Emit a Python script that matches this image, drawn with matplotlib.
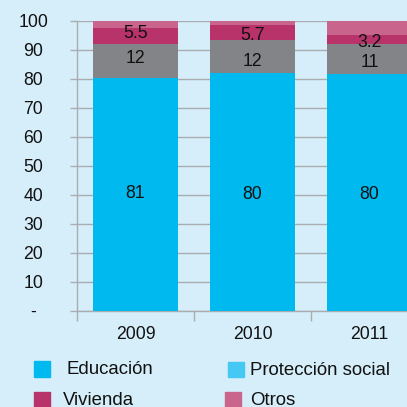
import numpy as np
import matplotlib
matplotlib.use('Agg')
import matplotlib.pyplot as plt
from matplotlib.patches import Rectangle

plt.rcParams['font.family'] = ['Liberation Sans', 'DejaVu Sans']

years = ['2009', '2010', '2011']
educacion = [80.2, 82.0, 81.7]
proteccion = [11.8, 11.3, 10.2]
vivienda = [5.5, 5.2, 3.2]
otros = [2.5, 1.5, 4.9]

# printed labels (as in the source, not quite the drawn heights)
lab_educacion = [81, 80, 80]
lab_proteccion = [12, 12, 11]
lab_vivienda = [5.5, 5.7, 3.2]

BG = '#d5eef9'
C_EDU = '#00b9ee'
C_PROT = '#838487'
C_PROT_LEG = '#45c8f4'
C_VIV = '#b8336a'
C_OTR = '#c9658d'
GRID = '#a9adb1'
FS = 12.7

fig = plt.figure(figsize=(4.07, 4.07), dpi=100, facecolor=BG)
ax = fig.add_axes([77/407, 1 - 310.7/407, 351/407, 290/407])
ax.set_facecolor(BG)

x = np.arange(len(years))
w = 0.726
b1 = np.array(educacion)
b2 = b1 + np.array(proteccion)
b3 = b2 + np.array(vivienda)
ax.bar(x, educacion, w, color=C_EDU, zorder=3)
ax.bar(x, proteccion, w, bottom=b1, color=C_PROT, zorder=3)
ax.bar(x, vivienda, w, bottom=b2, color=C_VIV, zorder=3)
ax.bar(x, otros, w, bottom=b3, color=C_OTR, zorder=3)

# value labels centred on the printed values
for i in range(len(years)):
    e = lab_educacion[i]
    p = lab_proteccion[i]
    v = lab_vivienda[i]
    ax.text(x[i], e / 2, str(e), ha='center', va='center', fontsize=FS, color='#111111', zorder=4)
    ax.text(x[i], e + p / 2, str(p), ha='center', va='center', fontsize=FS, color='#111111', zorder=4)
    ax.text(x[i], e + p + v / 2, str(v), ha='center', va='center', fontsize=FS, color='#111111', zorder=4)

ax.set_xlim(-0.5, 2.5)
ax.set_ylim(0, 100)
ax.set_yticks(np.arange(0, 101, 10))
ax.set_yticklabels(['-'] + [str(t) for t in range(10, 101, 10)], ha='center')
ax.yaxis.grid(True, color=GRID, lw=1.0, zorder=1)
ax.tick_params(axis='y', length=5, width=1.0, color=GRID, pad=26.6, labelsize=FS, labelcolor='#111111')

ax.set_xticks(x)
ax.set_xticklabels(years)
ax.set_xticks([-0.5, 0.5, 1.5, 2.5], minor=True)
ax.tick_params(axis='x', which='major', length=0, pad=11, labelsize=FS, labelcolor='#111111')
ax.tick_params(axis='x', which='minor', length=7.2, width=1.0, color=GRID)

for s in ['top', 'right']:
    ax.spines[s].set_visible(False)
for s in ['left', 'bottom']:
    ax.spines[s].set_color(GRID)
    ax.spines[s].set_linewidth(1.0)

# legend
leg_items = [('Educación', C_EDU, 34, 361, 66.7),
             ('Protección social', C_PROT_LEG, 228.3, 361.7, 250),
             ('Vivienda', C_VIV, 34, 391.7, 62.7),
             ('Otros', C_OTR, 225, 391.7, 250)]
for name, col, sx, sy, tx in leg_items:
    fig.patches.append(Rectangle((sx/407, 1 - (sy + 15.5)/407), 16/407, 15.5/407,
                                 transform=fig.transFigure, color=col))
    fig.text(tx/407, 1 - (sy + 13.5)/407, name, fontsize=13.4, va='baseline', ha='left',
             color='#111111')

fig.savefig('out.png', dpi=100, facecolor=BG)
